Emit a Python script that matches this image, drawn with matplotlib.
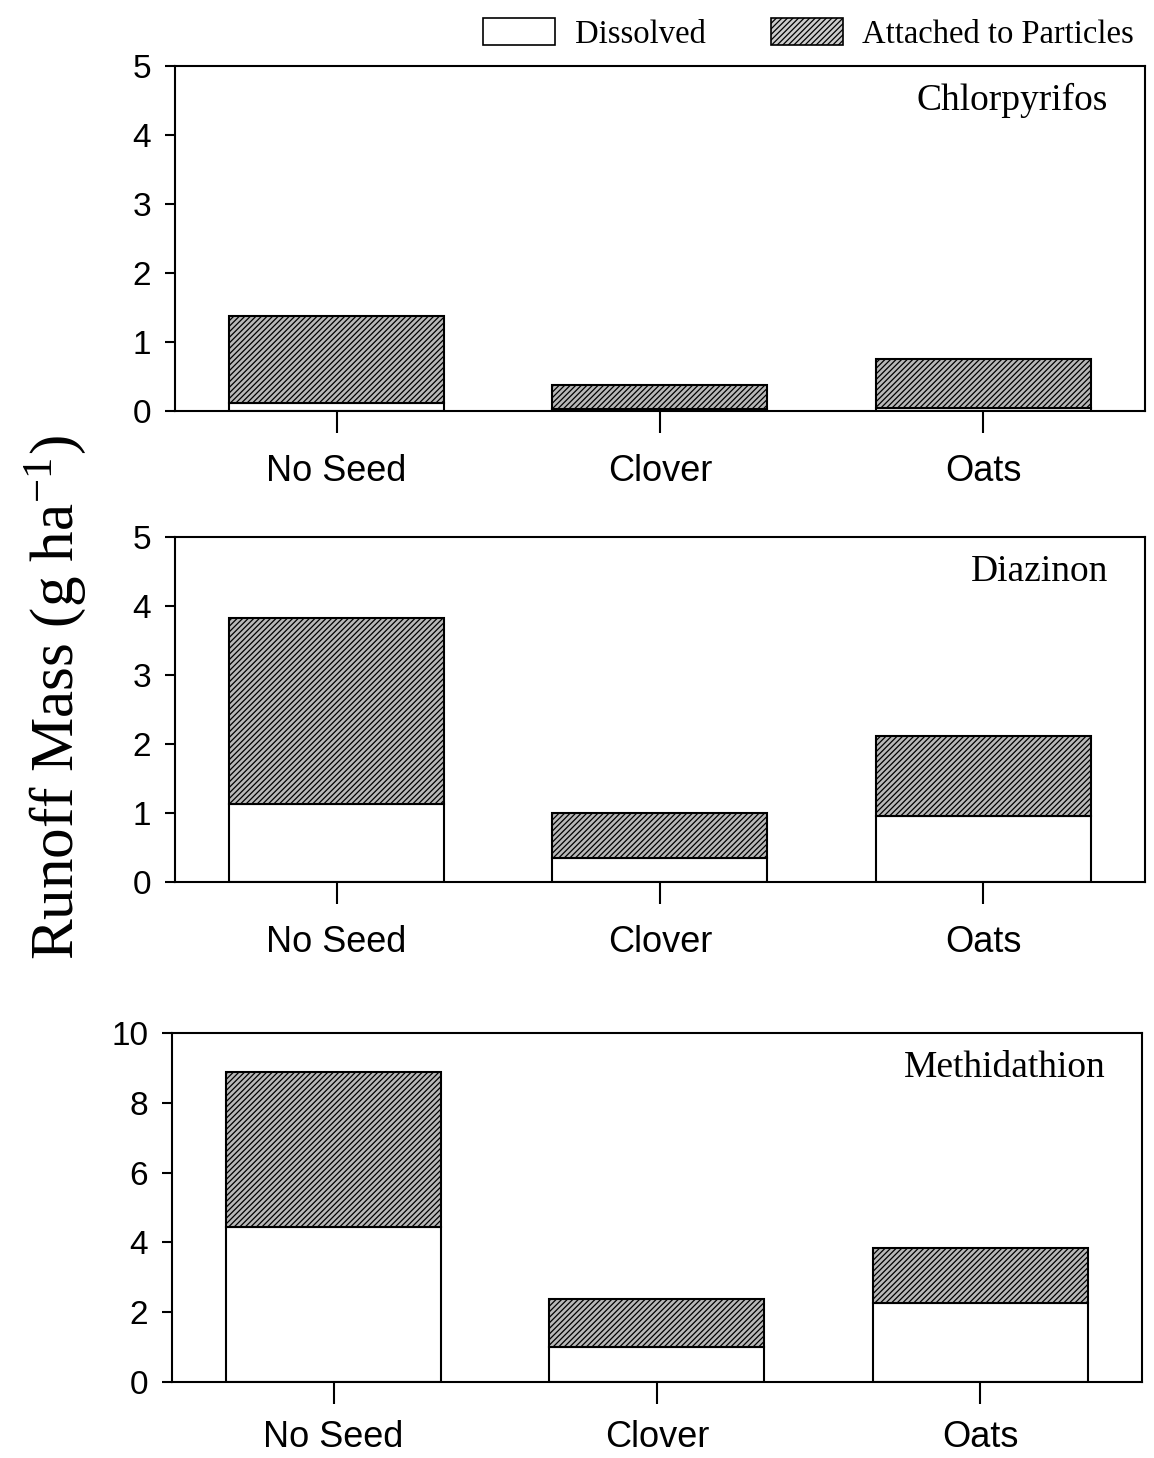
import numpy as np
import matplotlib.pyplot as plt
from matplotlib.patches import Patch

plt.rcParams['hatch.linewidth'] = 0.9
plt.rcParams['mathtext.fontset'] = 'stix'

#Data (g/ha)
crops = ["No Seed", "Clover", "Oats"]
chemicals = ["Chlorpyrifos", "Diazinon", "Methidathion"]
dissolved = {
    "Chlorpyrifos": [0.12, 0.03, 0.05],
    "Diazinon": [1.13, 0.35, 0.95],
    "Methidathion": [4.44, 1.00, 2.26],
}
particles = {
    "Chlorpyrifos": [1.25, 0.35, 0.70],
    "Diazinon": [2.69, 0.65, 1.17],
    "Methidathion": [4.44, 1.38, 1.58],
}
ymax = [5, 5, 10]
ysteps = [1, 1, 2]

#Axes positions [left, bottom, width, height] in figure fraction
positions = [
    [0.1516, 0.7181, 0.8406, 0.2366],
    [0.1516, 0.3951, 0.8406, 0.2366],
    [0.1490, 0.0521, 0.8406, 0.2394],
]
xpads = [15, 15, 11]

fig = plt.figure(figsize=(11.54, 14.58), dpi=100)
x = np.arange(len(crops))
sans = "Liberation Sans"
serif = "Liberation Serif"

for i, chem in enumerate(chemicals):
    ax = fig.add_axes(positions[i])
    d = np.array(dissolved[chem])
    p = np.array(particles[chem])
    ax.bar(x, d, width=0.665, color="white", edgecolor="black", linewidth=1.5)
    ax.bar(x, p, bottom=d, width=0.665, color="#b8b8b8", edgecolor="black",
           linewidth=1.5, hatch="//////")
    ax.set_xlim(-0.5, 2.5)
    ax.set_ylim(0, ymax[i])
    ax.set_yticks(np.arange(0, ymax[i] + 0.1, ysteps[i]))
    ax.set_xticks(x)
    ax.set_xticklabels(crops, fontfamily=sans, fontsize=26)
    for lab in ax.get_yticklabels():
        lab.set_fontfamily(sans)
        lab.set_fontsize(24)
    ax.tick_params(axis="y", direction="out", length=7, width=1.5, pad=10)
    ax.tick_params(axis="x", direction="out", length=16, width=1.5, pad=xpads[i])
    for s in ax.spines.values():
        s.set_linewidth(1.5)
    ax.text(0.962, 0.90, chem, transform=ax.transAxes, ha="right", va="center",
            fontfamily=serif, fontsize=27)

fig.text(0.048, 0.522, "Runoff Mass (g ha$^{\\mathregular{-1}}$)", rotation=90,
         ha="center", va="center", fontfamily=serif, fontsize=44)

handles = [Patch(facecolor="white", edgecolor="black", linewidth=1.2),
           Patch(facecolor="#cccccc", edgecolor="black", linewidth=1.2, hatch="//////")]
fig.legend(handles, ["Dissolved", "Attached to Particles"], loc="upper right",
           bbox_to_anchor=(1.008, 1.008), ncol=2, frameon=False,
           prop={"family": serif, "size": 23.5}, handlelength=2.2, handleheight=0.9,
           handletextpad=0.6, columnspacing=2.0)

plt.savefig("out.png", dpi=100)
